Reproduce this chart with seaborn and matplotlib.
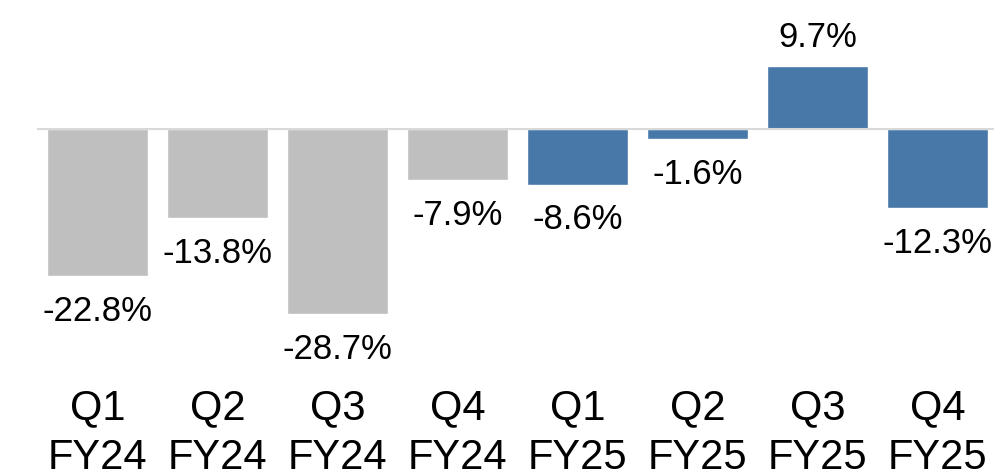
import matplotlib
matplotlib.use("Agg")
import matplotlib.pyplot as plt
import seaborn as sns

# data
quarters = ["Q1\nFY24", "Q2\nFY24", "Q3\nFY24", "Q4\nFY24",
            "Q1\nFY25", "Q2\nFY25", "Q3\nFY25", "Q4\nFY25"]
growth = [-22.8, -13.8, -28.7, -7.9, -8.6, -1.6, 9.7, -12.3]
bar_colors = ["#bfbfbf"] * 4 + ["#4878a8"] * 4

sns.set_style("white")
plt.rcParams["font.family"] = ["Liberation Sans", "DejaVu Sans"]
plt.rcParams["text.color"] = "black"
plt.rcParams["xtick.color"] = "black"

fig = plt.figure(figsize=(9.94, 4.70), dpi=100)
ax = fig.add_axes([37 / 994, 90 / 470, 957 / 994, 380 / 470])

sns.barplot(x=quarters, y=growth, hue=quarters, palette=bar_colors,
            legend=False, width=0.84, saturation=1, ax=ax, zorder=1)

ax.axhline(0, color="#d9d9d9", lw=1.5, zorder=3)

# value labels
for p, v in zip(ax.patches, growth):
    cx = p.get_x() + p.get_width() / 2
    if v < 0:
        ax.annotate(f"{v:.1f}%", (cx, v), xytext=(0, -13.5), textcoords="offset points",
                    ha="center", va="top", fontsize=25, color="black")
    else:
        ax.annotate(f"{v:.1f}%", (cx, v), xytext=(0, 9), textcoords="offset points",
                    ha="center", va="bottom", fontsize=25, color="black")

ax.set_xlim(-0.504, 7.471)
ax.set_ylim(-38.85, 19.97)
ax.set_yticks([])
ax.tick_params(axis="x", length=0, pad=6, labelsize=30, labelcolor="black")
for t in ax.get_xticklabels():
    t.set_linespacing(1.3)
sns.despine(ax=ax, left=True, bottom=True)

fig.savefig("out.png", dpi=100)
